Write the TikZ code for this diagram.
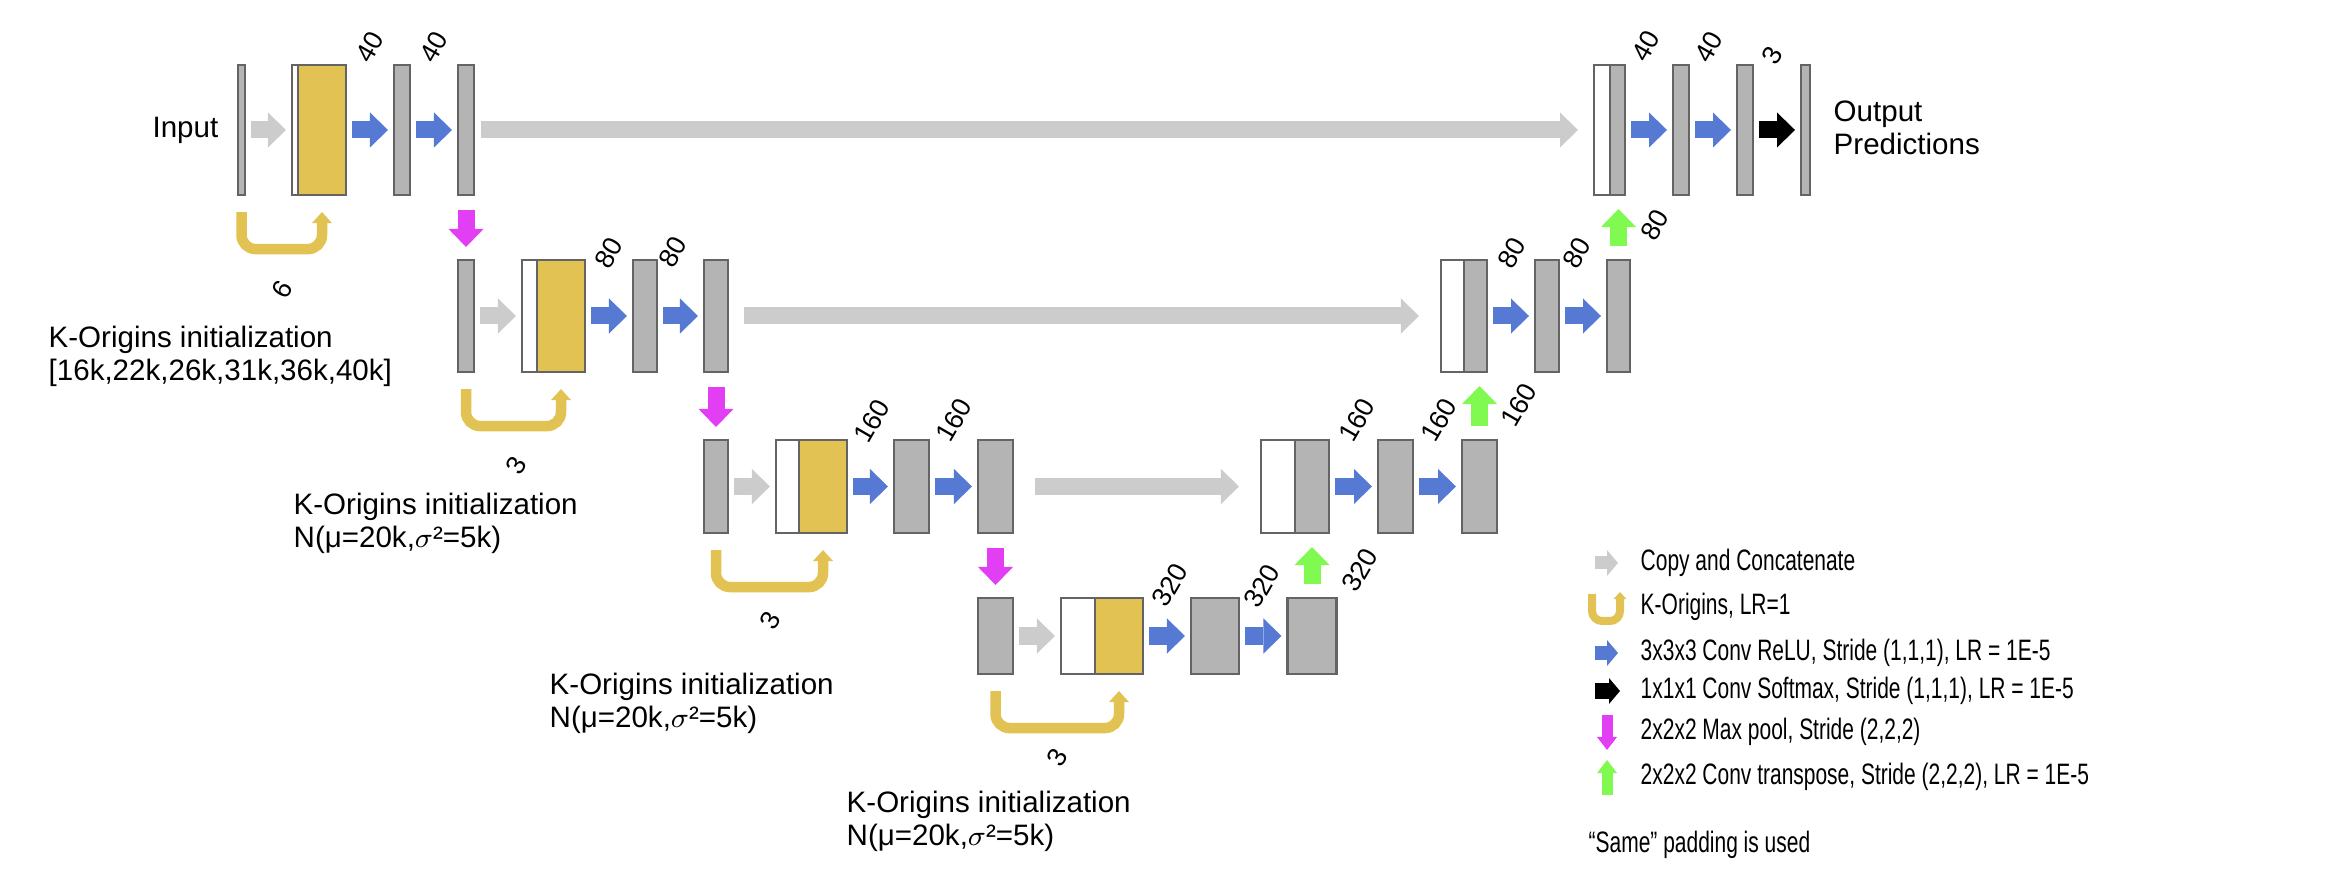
\documentclass[tikz,border=0pt]{standalone}
\usepackage{fontspec}
\setmainfont{Liberation Sans}
\newfontfamily\legendfont[FakeStretch=0.71]{Liberation Sans}
\usetikzlibrary{arrows.meta}
\definecolor{mapgray}{RGB}{180,180,180}
\definecolor{edgegray}{RGB}{100,100,100}
\definecolor{kyellow}{RGB}{226,194,82}
\definecolor{copygray}{RGB}{204,204,204}
\definecolor{convblue}{RGB}{86,122,212}
\definecolor{poolpink}{RGB}{226,62,244}
\definecolor{upgreen}{RGB}{128,250,80}
\tikzset{
  fmap/.style={draw=edgegray, fill=mapgray, line width=0.6pt, inner sep=0pt, outer sep=0pt},
  kmap/.style={fmap, fill=kyellow},
  cmap/.style={fmap, fill=white},
  rowa/.style={minimum height=1.30cm},
  rowb/.style={minimum height=1.12cm},
  rowc/.style={minimum height=0.93cm},
  rowd/.style={minimum height=0.76cm},
  fatarrow/.style={line width=0.17cm, -{Triangle[length=0.18cm,width=0.35cm,line width=0pt]},
    shorten <=0.06cm, shorten >=0.06cm},
  copyarr/.style={fatarrow, copygray},
  convarr/.style={fatarrow, convblue},
  softarr/.style={fatarrow, black},
  poolarr/.style={fatarrow, poolpink, shorten <=0.15cm, shorten >=0.13cm},
  uparr/.style={fatarrow, upgreen, shorten <=0.14cm, shorten >=0.14cm},
  karch/.style={kyellow, line width=0.105cm, rounded corners=0.14cm,
    -{Triangle[length=0.11cm,width=0.2cm,line width=0pt]}},
  legarr/.style={line width=0.13cm, -{Triangle[length=0.11cm,width=0.26cm,line width=0pt]}},
  vlegarr/.style={line width=0.11cm, -{Triangle[length=0.13cm,width=0.2cm,line width=0pt]}},
  txt/.style={inner sep=0pt, font=\fontsize{8.4}{9.4}\selectfont, align=left},
  num/.style={inner sep=0pt, font=\fontsize{7.6}{8}\selectfont, rotate=60},
  legtxt/.style={inner sep=0pt, anchor=west, font=\legendfont\fontsize{8.4}{9.4}\selectfont},
}

\begin{document}
\begin{tikzpicture}[x=0.01cm,y=-0.01cm]
\useasboundingbox (0,0) rectangle (2334,895);
% Encoder, level 1
\node[fmap, rowa, minimum width=0.07cm] (in) at (241.5,130) {};
\node[cmap, rowa, minimum width=0.06cm] (c1w) at (295,130) {};
\node[kmap, rowa, minimum width=0.48cm] (c1y) at (322,130) {};
\node[fmap, rowa, minimum width=0.16cm] (e1a) at (402,130) {};
\node[fmap, rowa, minimum width=0.16cm] (e1b) at (466,130) {};
% Encoder, level 2
\node[fmap, rowb, minimum width=0.16cm] (p2) at (466,316) {};
\node[cmap, rowb, minimum width=0.15cm] (c2w) at (529.5,316) {};
\node[kmap, rowb, minimum width=0.48cm] (c2y) at (561,316) {};
\node[fmap, rowb, minimum width=0.24cm] (e2a) at (645,316) {};
\node[fmap, rowb, minimum width=0.24cm] (e2b) at (716,316) {};
% Encoder, level 3
\node[fmap, rowc, minimum width=0.24cm] (p3) at (716,486.5) {};
\node[cmap, rowc, minimum width=0.23cm] (c3w) at (787.5,486.5) {};
\node[kmap, rowc, minimum width=0.48cm] (c3y) at (823,486.5) {};
\node[fmap, rowc, minimum width=0.35cm] (e3a) at (911.5,486.5) {};
\node[fmap, rowc, minimum width=0.35cm] (e3b) at (995.5,486.5) {};
% Bottom level
\node[fmap, rowd, minimum width=0.35cm] (p4) at (995.5,636) {};
\node[cmap, rowd, minimum width=0.34cm] (c4w) at (1078,636) {};
\node[kmap, rowd, minimum width=0.48cm] (c4y) at (1119,636) {};
\node[fmap, rowd, minimum width=0.48cm] (e4a) at (1215,636) {};
\node[fmap, rowd, minimum width=0.49cm] (e4b) at (1312,636) {};
% Decoder, level 3
\node[cmap, rowc, minimum width=0.34cm] (d3w) at (1278,486.5) {};
\node[fmap, rowc, minimum width=0.34cm] (d3g) at (1312,486.5) {};
\node[fmap, rowc, minimum width=0.35cm] (d3a) at (1395.5,486.5) {};
\node[fmap, rowc, minimum width=0.35cm] (d3b) at (1479.5,486.5) {};
% Decoder, level 2
\node[cmap, rowb, minimum width=0.23cm] (d2w) at (1452.5,316) {};
\node[fmap, rowb, minimum width=0.23cm] (d2g) at (1475.5,316) {};
\node[fmap, rowb, minimum width=0.24cm] (d2a) at (1547,316) {};
\node[fmap, rowb, minimum width=0.23cm] (d2b) at (1618.5,316) {};
% Decoder, level 1
\node[cmap, rowa, minimum width=0.16cm] (d1w) at (1602,130) {};
\node[fmap, rowa, minimum width=0.15cm] (d1g) at (1617.5,130) {};
\node[fmap, rowa, minimum width=0.16cm] (d1a) at (1681,130) {};
\node[fmap, rowa, minimum width=0.16cm] (d1b) at (1745,130) {};
\node[fmap, rowa, minimum width=0.09cm] (out) at (1805.5,130) {};
% Copy arrows into the K-Origins layers
\draw[copyarr] (in) -- (c1w);
\draw[copyarr] (p2) -- (c2w);
\draw[copyarr] (p3) -- (c3w);
\draw[copyarr] (p4) -- (c4w);
% Conv arrows
\draw[convarr] (c1y) -- (e1a);
\draw[convarr] (e1a) -- (e1b);
\draw[convarr] (c2y) -- (e2a);
\draw[convarr] (e2a) -- (e2b);
\draw[convarr] (c3y) -- (e3a);
\draw[convarr] (e3a) -- (e3b);
\draw[convarr] (c4y) -- (e4a);
\draw[convarr] (e4a) -- (e4b);
\draw[convarr] (d3g) -- (d3a);
\draw[convarr] (d3a) -- (d3b);
\draw[convarr] (d2g) -- (d2a);
\draw[convarr] (d2a) -- (d2b);
\draw[convarr] (d1g) -- (d1a);
\draw[convarr] (d1a) -- (d1b);
\draw[softarr] (d1b) -- (out);
% Skip connections
\draw[copyarr, shorten <=0.07cm, shorten >=0.16cm] (e1b) -- (d1w);
\draw[copyarr, shorten <=0.16cm, shorten >=0.22cm] (e2b) -- (d2w);
\draw[copyarr, shorten <=0.22cm, shorten >=0.22cm] (e3b) -- (d3w);
% Max pool and up-conv
\draw[poolarr] (e1b) -- (p2);
\draw[poolarr] (e2b) -- (p3);
\draw[poolarr] (e3b) -- (p4);
\draw[uparr] (e4b.north) -- (e4b.north |- d3g.south);
\draw[uparr] (d3b.north) -- (d3b.north |- d2g.south);
\draw[uparr] (d2b.north) -- (d2b.north |- d1g.south);
% K-Origins arches
\draw[karch] ([yshift=-0.17cm]in.south) |- ([yshift=-0.54cm]c1y.south) -- ([yshift=-0.17cm]c1y.south);
\draw[karch] ([yshift=-0.17cm]p2.south) |- ([yshift=-0.54cm]c2y.south) -- ([yshift=-0.17cm]c2y.south);
\draw[karch] ([yshift=-0.17cm]p3.south) |- ([yshift=-0.54cm]c3y.south) -- ([yshift=-0.17cm]c3y.south);
\draw[karch] ([yshift=-0.17cm]p4.south) |- ([yshift=-0.54cm]c4y.south) -- ([yshift=-0.17cm]c4y.south);
% Channel counts
\node[num] (n1a) at (370,47) {40};
\node[num] (n1b) at (434,47) {40};
\node[num] (n2a) at (609,253) {80};
\node[num] (n2b) at (673,252) {80};
\node[num] (n3a) at (872,421) {160};
\node[num] (n3b) at (954,420) {160};
\node[num] (n4a) at (1170,585) {320};
\node[num] (n4b) at (1262,586) {320};
\node[num] (n4c) at (1360,570) {320};
\node[num] (m3a) at (1357,420) {160};
\node[num] (m3b) at (1439,420) {160};
\node[num] (m3c) at (1519,405) {160};
\node[num] (m2a) at (1512,253) {80};
\node[num] (m2b) at (1577,253) {80};
\node[num] (m2c) at (1655,225) {80};
\node[num] (m1a) at (1646,46) {40};
\node[num] (m1b) at (1709,47) {40};
\node[num] (m1c) at (1772,55) {3};
% Cluster counts
\node[num] (k1) at (282,289) {6};
\node[num] (k2) at (516,465) {3};
\node[num] (k3) at (770,620) {3};
\node[num] (k4) at (1057,757) {3};
% Labels
\node[txt, anchor=east] (inlbl) at (219,130) {Input};
\node[txt, anchor=west] (outlbl) at (1833,128) {Output\\Predictions};
\node[txt, anchor=west] (init1) at (48,356) {K-Origins initialization\\ {[}16k,22k,26k,31k,36k,40k]};
\node[txt, anchor=west] (init2) at (293,523) {K-Origins initialization\\N(μ=20k,$\sigma$²=5k)};
\node[txt, anchor=west] (init3) at (549,703) {K-Origins initialization\\N(μ=20k,$\sigma$²=5k)};
\node[txt, anchor=west] (init4) at (846,821) {K-Origins initialization\\N(μ=20k,$\sigma$²=5k)};
% Legend
\node[legtxt] (lg1) at (1640,563) {Copy and Concatenate};
\node[legtxt] (lg2) at (1640,607) {K-Origins, LR=1};
\node[legtxt] (lg3) at (1640,653) {3x3x3 Conv ReLU, Stride (1,1,1), LR = 1E-5};
\node[legtxt] (lg4) at (1640,691) {1x1x1 Conv Softmax, Stride (1,1,1), LR = 1E-5};
\node[legtxt] (lg5) at (1640,732) {2x2x2 Max pool, Stride (2,2,2)};
\node[legtxt] (lg6) at (1640,777) {2x2x2 Conv transpose, Stride (2,2,2), LR = 1E-5};
\node[legtxt] (lg7) at (1588,845) {“Same” padding is used};
\draw[legarr, copygray] ([xshift=-0.45cm]lg1.west) -- ([xshift=-0.22cm]lg1.west);
\draw[kyellow, line width=0.08cm, rounded corners=0.1cm, -{Triangle[length=0.07cm,width=0.13cm,line width=0pt]}]
  ([shift={(-48,-13)}]lg2.west) |- ([shift={(-20,14)}]lg2.west) -- ([shift={(-20,-15)}]lg2.west);
\draw[legarr, convblue] ([xshift=-0.45cm]lg3.west) -- ([xshift=-0.22cm]lg3.west);
\draw[legarr, black, line width=0.15cm] ([xshift=-0.45cm]lg4.west) -- ([xshift=-0.2cm]lg4.west);
\draw[vlegarr, poolpink] ([shift={(-33,-17)}]lg5.west) -- ([shift={(-33,18)}]lg5.west);
\draw[vlegarr, upgreen] ([shift={(-33,18)}]lg6.west) -- ([shift={(-33,-17)}]lg6.west);
\end{tikzpicture}
\end{document}
